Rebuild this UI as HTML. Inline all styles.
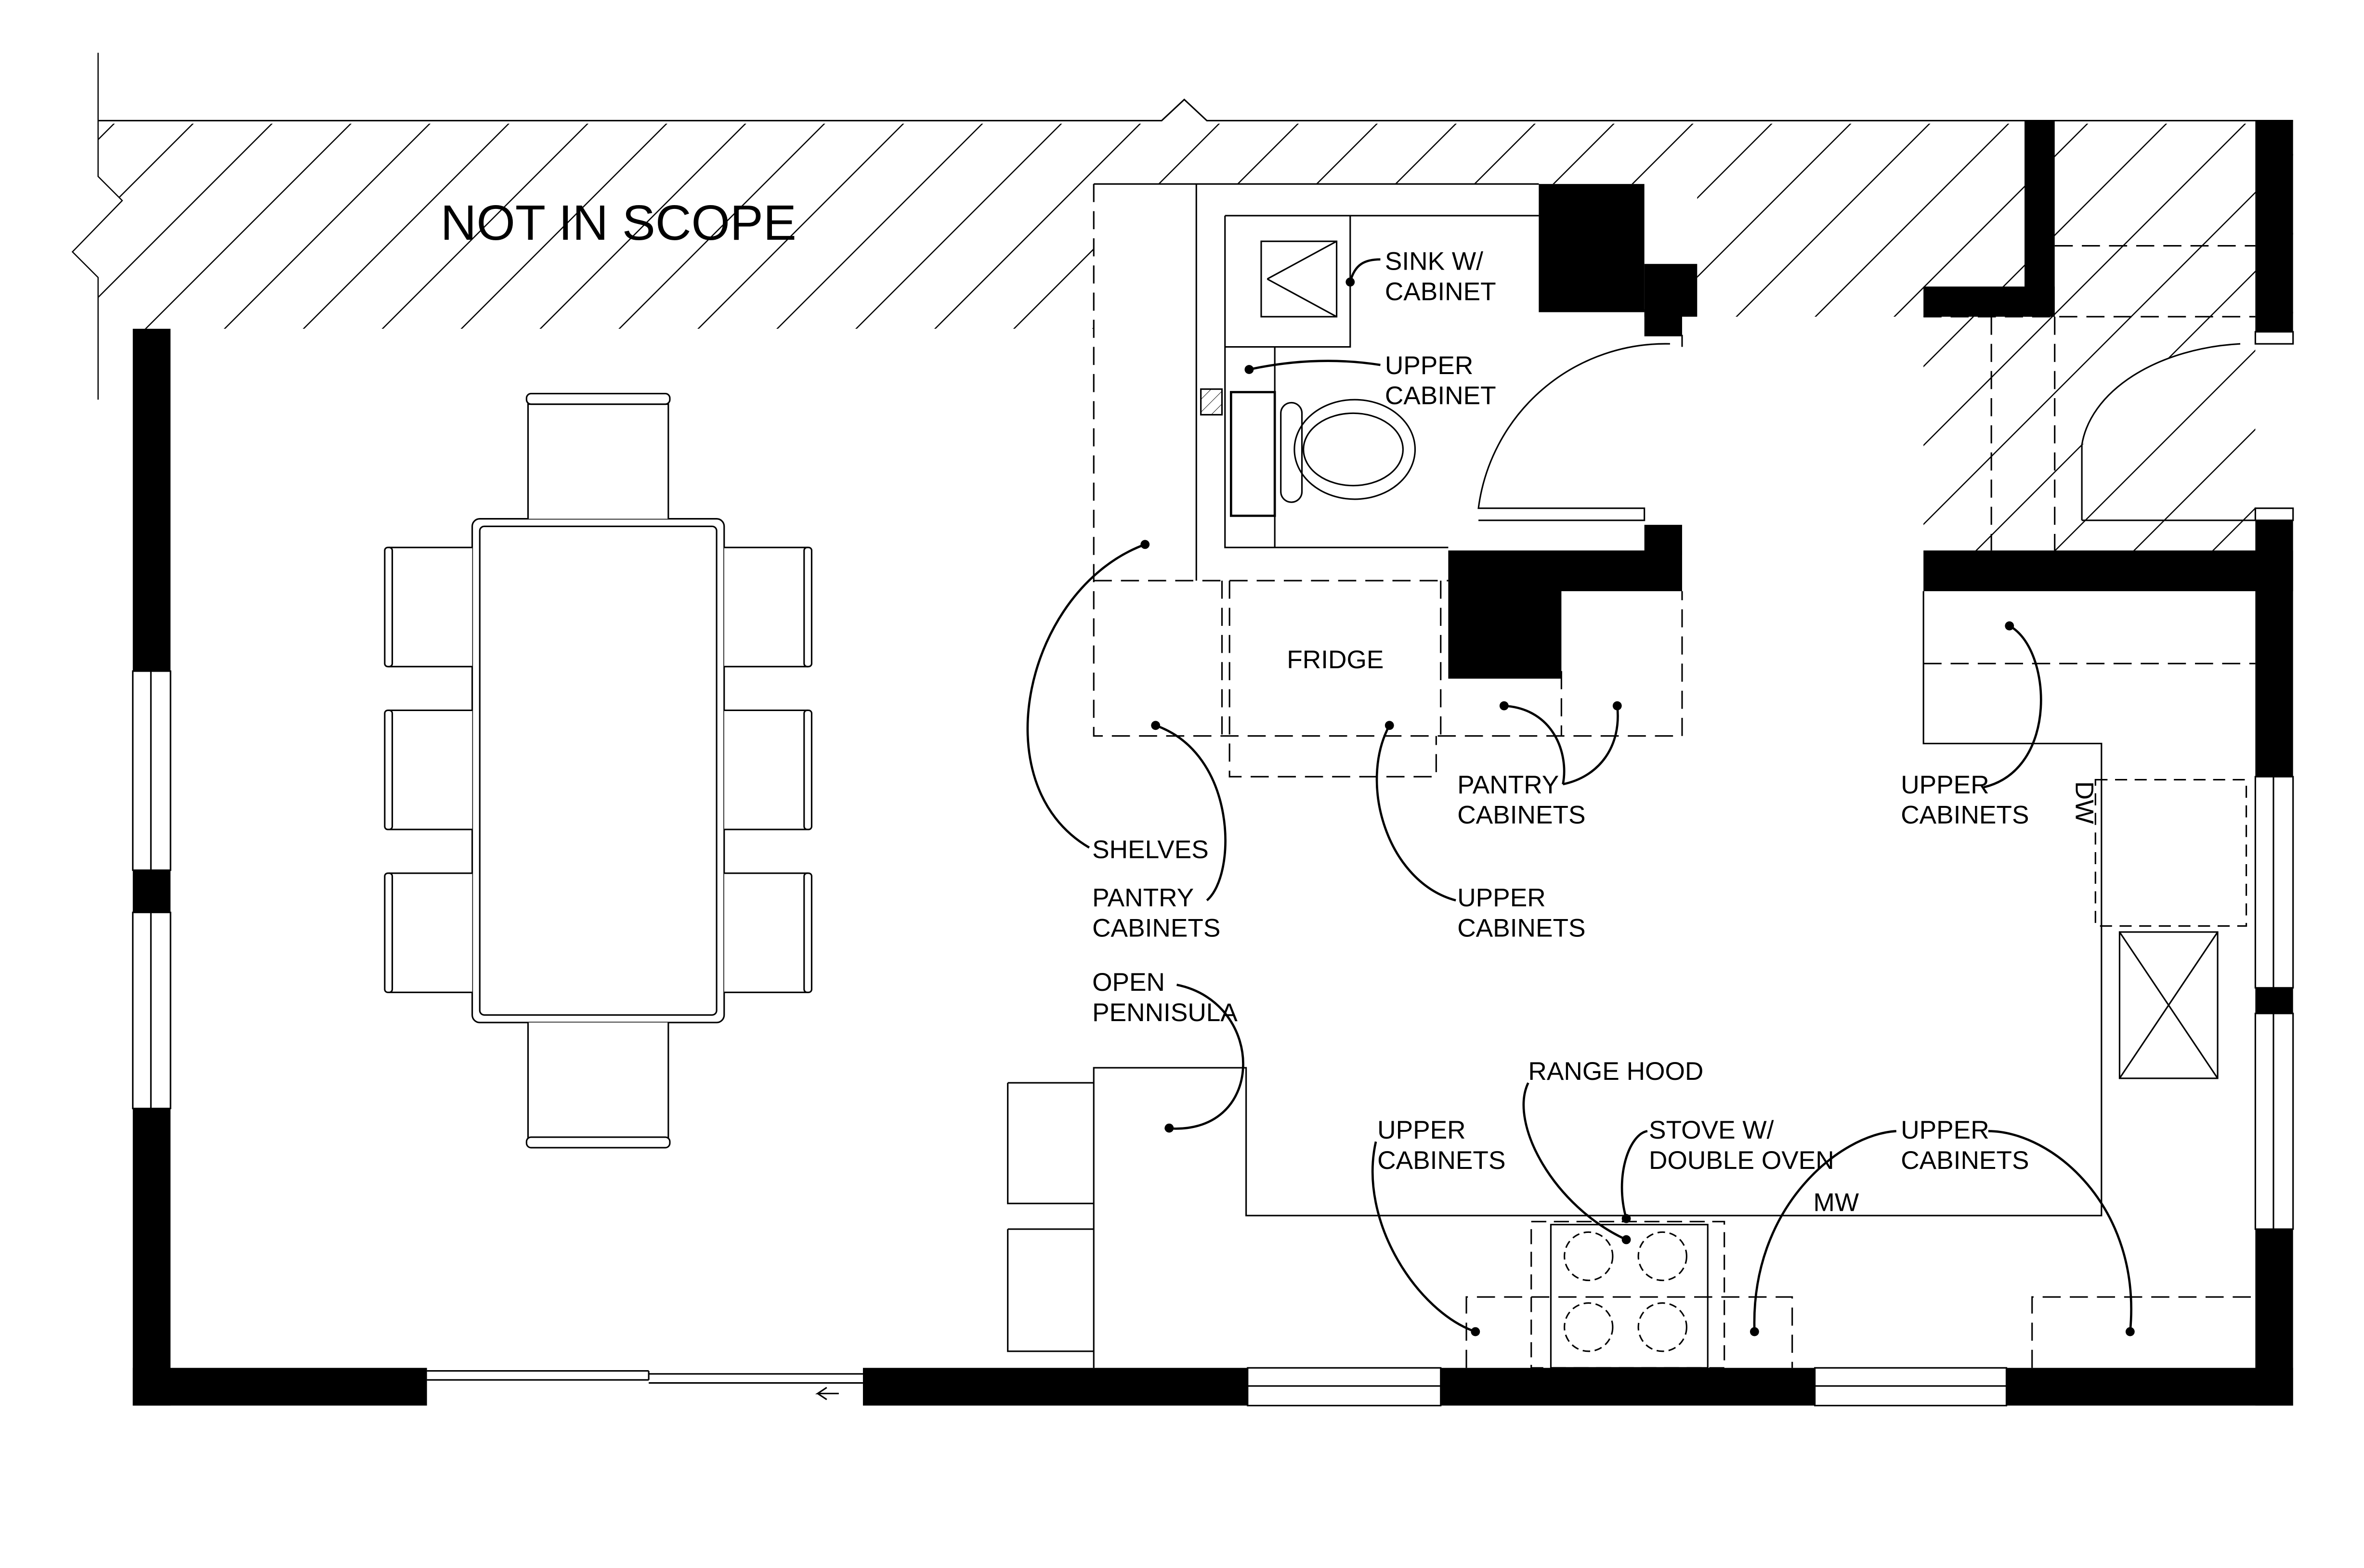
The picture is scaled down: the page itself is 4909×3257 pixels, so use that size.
<!DOCTYPE html>
<html><head><meta charset="utf-8"><style>html,body{margin:0;padding:0;background:#fff}svg{display:block}</style></head><body>
<svg xmlns="http://www.w3.org/2000/svg" width="4909" height="3257" viewBox="0 0 1567 1039.7" font-family="Liberation Sans, sans-serif">
<defs>
<pattern id="h" width="37" height="37" patternUnits="userSpaceOnUse" patternTransform="rotate(45)">
<line x1="0" y1="0" x2="0" y2="37" stroke="#000" stroke-width="1.6"/>
</pattern>
<pattern id="h2" width="6" height="6" patternUnits="userSpaceOnUse" patternTransform="rotate(45)">
<line x1="0" y1="0" x2="0" y2="6" stroke="#000" stroke-width="0.6"/>
</pattern>
</defs>
<rect width="1567" height="1040" fill="#fff"/>
<!-- hatched not in scope -->
<path d="M65 82 L1520 82 L1520 210 L1125 210 L1125 122 L725 122 L725 218 L65 218 L65 184 L48 167 L81 133 L65 117 Z" fill="url(#h)"/>
<rect x="1275" y="210" width="220" height="155" fill="url(#h)"/>
<rect x="726" y="123" width="393" height="262" fill="#fff"/>
<path d="M65 80 L770 80 L785 66 L800 80 L1520 80" fill="none" stroke="#000" stroke-width="1"/>
<path d="M65 35 L65 117 L81 133 L48 167 L65 184 L65 265" fill="none" stroke="#000" stroke-width="0.8"/>
<text x="292" y="159" font-size="33">NOT IN SCOPE</text>
<!-- right closet -->
<path d="M1320 210 V365 M1362 210 V365 M1362 163 H1495 M1275 210 H1495" stroke="#000" stroke-width="1" stroke-dasharray="12,6" fill="none"/>
<path d="M1380 345 V295 M1380 345 H1495 M1380 295 A115 75 0 0 1 1485 228" fill="#fff" stroke="#000" stroke-width="1"/>
<!-- walls -->
<rect x="88" y="218" width="25" height="714" fill="#000"/>
<rect x="88" y="907" width="195" height="25" fill="#000"/>
<rect x="572" y="907" width="948" height="25" fill="#000"/>
<rect x="1495" y="80" width="25" height="140" fill="#000"/>
<rect x="1495" y="345" width="25" height="587" fill="#000"/>
<rect x="1342" y="80" width="20" height="130" fill="#000"/>
<rect x="1275" y="190" width="87" height="20" fill="#000"/>
<rect x="1275" y="365" width="245" height="27" fill="#000"/>
<!-- windows -->
<g fill="#fff" stroke="#000" stroke-width="1">
<rect x="88" y="445" width="25" height="132"/><rect x="88" y="605" width="25" height="130"/>
<line x1="100" y1="445" x2="100" y2="577"/><line x1="100" y1="605" x2="100" y2="735"/>
<rect x="827" y="907" width="128" height="25"/><rect x="1203" y="907" width="127" height="25"/>
<line x1="827" y1="919" x2="955" y2="919"/><line x1="1203" y1="919" x2="1330" y2="919"/>
<rect x="1495" y="515" width="25" height="140"/><rect x="1495" y="672" width="25" height="143"/>
<line x1="1507" y1="515" x2="1507" y2="655"/><line x1="1507" y1="672" x2="1507" y2="815"/>
<rect x="1495" y="220" width="25" height="8"/><rect x="1495" y="337" width="25" height="8"/>
</g>
<!-- sliding door -->
<g stroke="#000" stroke-width="1" fill="none">
<path d="M283 909 H430 M283 915 H430 M430 909 V915 M430 911 H572 M430 917 H572"/>
<path d="M556 924 H542 l6 -4 M542 924 l6 4"/>
</g>
<!-- dining table -->
<g fill="#fff" stroke="#000" stroke-width="1">
<rect x="313" y="344" width="167" height="334" rx="5"/><rect x="318" y="349" width="157" height="324" rx="3"/>
<path d="M350 344 V268 H443 V344 M350 678 V755 H443 V678"/>
<rect x="349" y="261" width="95" height="7" rx="3"/><rect x="349" y="754" width="95" height="7" rx="3"/>
<path d="M313 363 H258 V442 H313 M313 471 H258 V550 H313 M313 579 H258 V658 H313"/>
<path d="M480 363 H535 V442 H480 M480 471 H535 V550 H480 M480 579 H535 V658 H480"/>
<rect x="255" y="363" width="5" height="79" rx="2"/><rect x="255" y="471" width="5" height="79" rx="2"/><rect x="255" y="579" width="5" height="79" rx="2"/>
<rect x="533" y="363" width="5" height="79" rx="2"/><rect x="533" y="471" width="5" height="79" rx="2"/><rect x="533" y="579" width="5" height="79" rx="2"/>
</g>
<!-- bathroom -->
<g stroke="#000" stroke-width="1" fill="none">
<path d="M725 122 H1020 M793 122 V385 M812 143 H1020 M812 143 V363 H960 M812 143 H895 V230 H812 M845 230 V363"/>
<rect x="836" y="160" width="50" height="50"/>
<path d="M840 185 L886 160 M840 185 L886 210"/>
<rect x="796" y="258" width="14" height="17" fill="url(#h2)"/>
<rect x="816" y="260" width="29" height="82" stroke-width="1.5"/>
<rect x="849" y="267" width="14" height="66" rx="7"/>
<ellipse cx="898" cy="298" rx="40" ry="33"/><ellipse cx="897" cy="298" rx="33" ry="24"/>
<path d="M1107 228 A125 125 0 0 0 980 337 H1090 V345 H980"/>
<path d="M725 122 V488 H1115 V392 M725 385 H960 M810 385 V488 M815 385 V515 H952 V488 M955 385 V488 M1035 445 V488 M1115 222 V230" stroke-dasharray="12,6"/>
</g>
<g fill="#000">
<rect x="1020" y="122" width="70" height="85"/><rect x="1090" y="175" width="35" height="35"/><rect x="1090" y="205" width="25" height="18"/>
<rect x="960" y="365" width="155" height="27"/><rect x="960" y="392" width="75" height="58"/><rect x="1090" y="348" width="25" height="20"/>
</g>
<text x="853" y="443" font-size="17">FRIDGE</text>
<!-- kitchen counters -->
<g stroke="#000" stroke-width="1" fill="none">
<path d="M725 907 V708 H826 V806 H1393 V493 H1275 V392"/>
<path d="M1275 440 H1495" stroke-dasharray="12,6"/>
<rect x="1389" y="517" width="100" height="97" stroke-dasharray="8,5"/>
<rect x="1405" y="618" width="65" height="97"/><path d="M1405 618 L1470 715 M1470 618 L1405 715"/>
<path d="M668 718 H725 M668 718 V798 H725 M668 815 H725 M668 815 V896 H725"/>
<path d="M972 907 V860 H1188 V907 M1347 907 V860 H1495" stroke-dasharray="12,6"/>
<rect x="1015" y="810" width="128" height="97" stroke-dasharray="10,5"/>
<rect x="1028" y="812" width="104" height="95"/>
<circle cx="1053" cy="833" r="16" stroke-dasharray="5,3"/><circle cx="1102" cy="833" r="16" stroke-dasharray="5,3"/>
<circle cx="1053" cy="880" r="16" stroke-dasharray="5,3"/><circle cx="1102" cy="880" r="16" stroke-dasharray="5,3"/>
</g>
<!-- leaders -->
<g stroke="#000" stroke-width="1.5" fill="none">
<path d="M895 187 C898 175 905 172 915 172"/>
<path d="M828 245 C860 238 890 238 915 242"/>
<path d="M759 361 C680 390 650 520 722 562"/>
<path d="M766 481 C820 500 820 580 800 597"/>
<path d="M921 481 C900 520 920 585 965 597"/>
<path d="M997 468 C1030 470 1040 500 1036 520 M1072 468 C1075 495 1060 515 1036 520"/>
<path d="M1332 415 C1360 430 1365 510 1315 522"/>
<path d="M772 748 C840 755 840 665 780 653"/>
<path d="M1078 822 C1030 800 1000 745 1013 718"/>
<path d="M1078 808 C1070 780 1080 752 1092 750"/>
<path d="M978 883 C940 870 900 810 912 757"/>
<path d="M1163 883 C1160 800 1220 752 1257 750"/>
<path d="M1412 883 C1420 800 1360 750 1318 750"/>
</g>
<g fill="#000">
<circle cx="895" cy="187" r="3"/><circle cx="828" cy="245" r="3"/><circle cx="759" cy="361" r="3"/><circle cx="766" cy="481" r="3"/><circle cx="921" cy="481" r="3"/><circle cx="997" cy="468" r="3"/><circle cx="1072" cy="468" r="3"/><circle cx="1332" cy="415" r="3"/><circle cx="775" cy="748" r="3"/><circle cx="1078" cy="822" r="3"/><circle cx="1078" cy="808" r="3"/><circle cx="978" cy="883" r="3"/><circle cx="1163" cy="883" r="3"/><circle cx="1412" cy="883" r="3"/>
</g>
<g font-size="17">
<text x="918" y="179">SINK W/</text><text x="918" y="199">CABINET</text>
<text x="918" y="248">UPPER</text><text x="918" y="268">CABINET</text>
<text x="724" y="569">SHELVES</text>
<text x="724" y="601">PANTRY</text><text x="724" y="621">CABINETS</text>
<text x="966" y="526">PANTRY</text><text x="966" y="546">CABINETS</text>
<text x="966" y="601">UPPER</text><text x="966" y="621">CABINETS</text>
<text x="1260" y="526">UPPER</text><text x="1260" y="546">CABINETS</text>
<text x="724" y="657">OPEN</text><text x="724" y="677">PENNISULA</text>
<text x="1013" y="716">RANGE HOOD</text>
<text x="913" y="755">UPPER</text><text x="913" y="775">CABINETS</text>
<text x="1093" y="755">STOVE W/</text><text x="1093" y="775">DOUBLE OVEN</text>
<text x="1260" y="755">UPPER</text><text x="1260" y="775">CABINETS</text>
<text x="1202" y="803">MW</text>
<text transform="translate(1376 518) rotate(90)">DW</text>
</g>
</svg>
</body></html>
